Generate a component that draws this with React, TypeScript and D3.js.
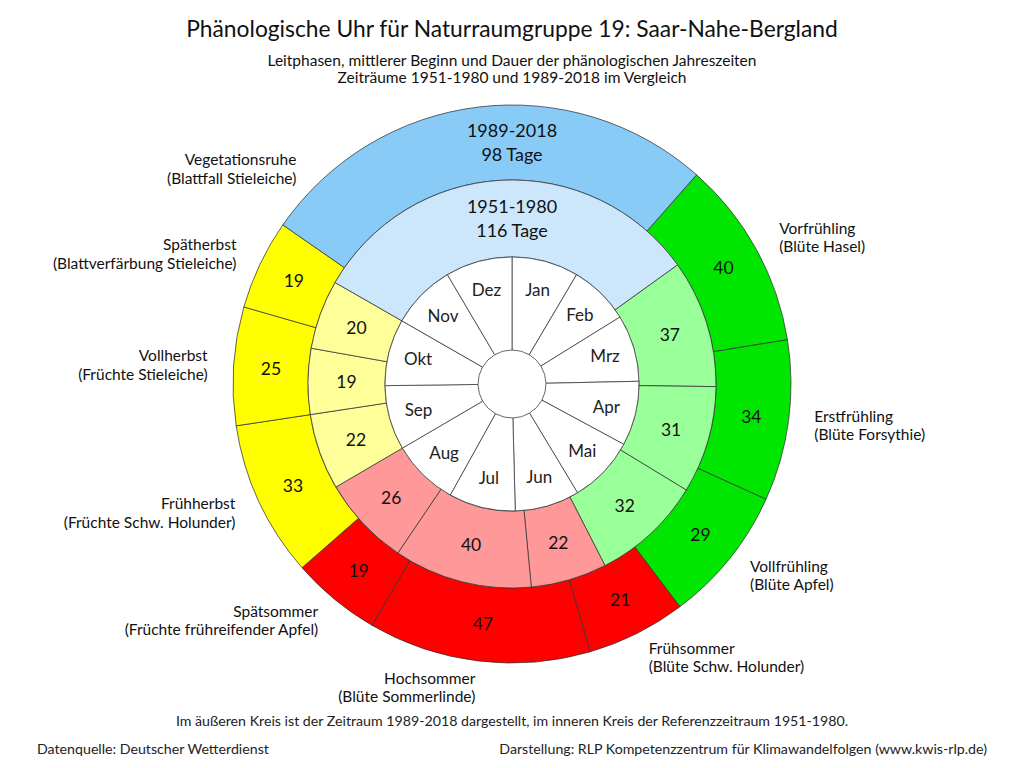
import React from "react";
import * as d3 from "d3";

// phänologische Jahreszeiten, beginnend mit dem Vorfrühling
const phases = [
  "Vorfrühling",
  "Erstfrühling",
  "Vollfrühling",
  "Frühsommer",
  "Hochsommer",
  "Spätsommer",
  "Frühherbst",
  "Vollherbst",
  "Spätherbst",
  "Vegetationsruhe",
];
const indicators = [
  "Blüte Hasel",
  "Blüte Forsythie",
  "Blüte Apfel",
  "Blüte Schw. Holunder",
  "Blüte Sommerlinde",
  "Früchte frühreifender Apfel",
  "Früchte Schw. Holunder",
  "Früchte Stieleiche",
  "Blattverfärbung Stieleiche",
  "Blattfall Stieleiche",
];
const seasons = ["spring", "spring", "spring", "summer", "summer", "summer", "autumn", "autumn", "autumn", "winter"];

// Dauer in Tagen
const days19892018 = [40, 34, 29, 21, 47, 19, 33, 25, 19, 98];
const days19511980 = [37, 31, 32, 22, 40, 26, 22, 19, 20, 116];
// mittlerer Beginn des Vorfrühlings (Tag im Jahr)
const start19892018 = 42;
const start19511980 = 55;

const months = ["Jan", "Feb", "Mrz", "Apr", "Mai", "Jun", "Jul", "Aug", "Sep", "Okt", "Nov", "Dez"];
const monthDays = [31, 28, 31, 30, 31, 30, 31, 31, 30, 31, 30, 31];

const outerColors: Record<string, string> = {
  spring: "#00E600",
  summer: "#FF0000",
  autumn: "#FFFF00",
  winter: "#89CBF7",
};
const innerColors: Record<string, string> = {
  spring: "#99FF99",
  summer: "#FF9999",
  autumn: "#FFFF99",
  winter: "#CCE7FB",
};

const width = 1024;
const height = 768;
const cx = 512;
const cy = 384;
const rHole = 34;
const rMonth = 127;
const rInner = 204;
const rOuter = 279;
const rLabel = 305;
const restLabelAngle = -Math.PI / 4;
const font = "Lato, 'Noto Sans', sans-serif";
const stroke = "#333";

const App = (): React.JSX.Element => {
  const toAngle = d3.scaleLinear([0, 365], [0, 2 * Math.PI]);
  const ring = (start: number) =>
    d3
      .pie<number>()
      .sort(null)
      .value((d) => d)
      .startAngle(toAngle(start))
      .endAngle(toAngle(start + 365));

  const outerSlices = ring(start19892018)(days19892018);
  const innerSlices = ring(start19511980)(days19511980);
  const monthSlices = ring(0)(monthDays);

  const outerArc = d3.arc<d3.PieArcDatum<number>>().innerRadius(rInner).outerRadius(rOuter);
  const innerArc = d3.arc<d3.PieArcDatum<number>>().innerRadius(rMonth).outerRadius(rInner);
  const monthArc = d3.arc<d3.PieArcDatum<number>>().innerRadius(rHole).outerRadius(rMonth);
  const monthLabelArc = d3.arc<d3.PieArcDatum<number>>().innerRadius(97).outerRadius(97);

  const last = phases.length - 1;
  const yOuterMid = -(rInner + rOuter) / 2 + 2;
  const yInnerMid = -(rMonth + rInner) / 2 + 2;

  return (
    <svg width={width} height={height} style={{ position: "absolute", left: 0, top: 0, background: "#fff" }} fontFamily={font}>
      <text x={512} y={31} textAnchor="middle" dominantBaseline="middle" fontSize={22.8} fill="#111">
        Phänologische Uhr für Naturraumgruppe 19: Saar-Nahe-Bergland
      </text>
      <text x={512} y={62} textAnchor="middle" dominantBaseline="middle" fontSize={15.5} fill="#111">
        Leitphasen, mittlerer Beginn und Dauer der phänologischen Jahreszeiten
      </text>
      <text x={512} y={79} textAnchor="middle" dominantBaseline="middle" fontSize={15.5} fill="#111">
        Zeiträume 1951-1980 und 1989-2018 im Vergleich
      </text>

      <g transform={`translate(${cx},${cy})`} stroke={stroke} strokeWidth={0.75}>
        {outerSlices.map((s, i) => (
          <path key={"o" + i} d={outerArc(s) as string} fill={outerColors[seasons[i]]} />
        ))}
        {innerSlices.map((s, i) => (
          <path key={"i" + i} d={innerArc(s) as string} fill={innerColors[seasons[i]]} />
        ))}
        {monthSlices.map((s, i) => (
          <path key={"m" + i} d={monthArc(s) as string} fill="#fff" />
        ))}
      </g>

      <g transform={`translate(${cx},${cy})`} textAnchor="middle" dominantBaseline="middle" fill="#111">
        {outerSlices.map((s, i) => {
          if (i === last) return null;
          const [x, y] = outerArc.centroid(s);
          return (
            <text key={"ot" + i} x={x} y={y + 2} fontSize={17.5}>
              {days19892018[i]}
            </text>
          );
        })}
        {innerSlices.map((s, i) => {
          if (i === last) return null;
          const [x, y] = innerArc.centroid(s);
          return (
            <text key={"it" + i} x={x} y={y + 2} fontSize={17.5}>
              {days19511980[i]}
            </text>
          );
        })}
        {monthSlices.map((s, i) => {
          const [x, y] = monthLabelArc.centroid(s);
          return (
            <text key={"mt" + i} x={x} y={y + 1.5} fontSize={17} fill="#222">
              {months[i]}
            </text>
          );
        })}
        <text x={0} y={yOuterMid - 12} fontSize={18}>1989-2018</text>
        <text x={0} y={yOuterMid + 12} fontSize={18}>{days19892018[last]} Tage</text>
        <text x={0} y={yInnerMid - 12} fontSize={18}>1951-1980</text>
        <text x={0} y={yInnerMid + 12} fontSize={18}>{days19511980[last]} Tage</text>
      </g>

      <g transform={`translate(${cx},${cy})`} fill="#111" fontSize={15.5}>
        {outerSlices.map((s, i) => {
          const a = i === last ? restLabelAngle : (s.startAngle + s.endAngle) / 2;
          const x = rLabel * Math.sin(a);
          const y = -rLabel * Math.cos(a) + 2;
          const anchor = Math.sin(a) > 0 ? "start" : "end";
          return (
            <text key={"l" + i} x={x} y={y} textAnchor={anchor} dominantBaseline="middle">
              <tspan x={x} dy={-9}>{phases[i]}</tspan>
              <tspan x={x} dy={18.5}>({indicators[i]})</tspan>
            </text>
          );
        })}
      </g>

      <text x={512} y={722} textAnchor="middle" dominantBaseline="middle" fontSize={14.2} fill="#222">
        Im äußeren Kreis ist der Zeitraum 1989-2018 dargestellt, im inneren Kreis der Referenzzeitraum 1951-1980.
      </text>
      <text x={37} y={750} dominantBaseline="middle" fontSize={14.2} fill="#222">
        Datenquelle: Deutscher Wetterdienst
      </text>
      <text x={987} y={750} textAnchor="end" dominantBaseline="middle" fontSize={14.2} fill="#222">
        Darstellung: RLP Kompetenzzentrum für Klimawandelfolgen (www.kwis-rlp.de)
      </text>
    </svg>
  );
};

export default App;
